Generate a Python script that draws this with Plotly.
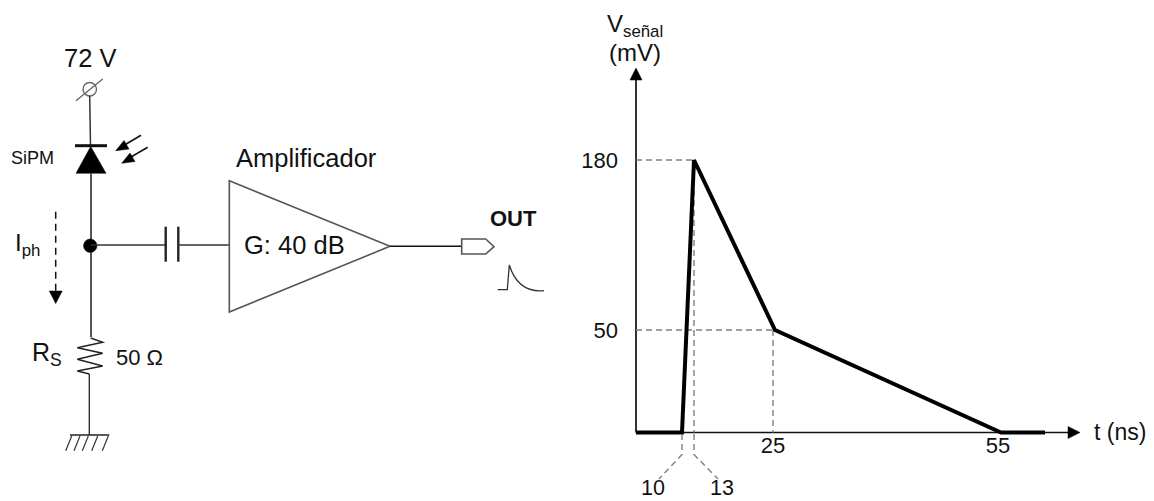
import plotly.graph_objects as go

# ---- Pulse chart data. The reference axes are schematic (not to scale), so each
# labelled value has a drawn position along its axis.
pulse_pos_t = [0, 46, 58, 139, 365, 409]      # drawn position along the time axis
pulse_pos_v = [0, 0, 272.5, 102.5, 0, 0]      # drawn position along the voltage axis
time_labels = ["25", "55"]
time_tick_pos = [137, 362]
voltage_labels = ["50", "180"]
voltage_tick_pos = [102.5, 272.5]
t_span = [-3, 433]
v_span = [-3, 352.5]
t_axis_end = 433
v_axis_end = 352.5
# guide lines, drawn positions
guide_h_t = [[0, 58], [0, 137]]
guide_h_v = [272.5, 102.5]
guide_v_t = [58, 137]
guide_v_v = [272.5, 102.5]

INK = "#111111"
WIRE = "#333333"
FONT = "Liberation Sans, Arial, sans-serif"
W, H = 1154, 501

fig = go.Figure()

# ---- pulse chart traces
guide = dict(color="#808080", width=1.4, dash="6px,4px")
fig.add_trace(go.Scatter(x=[0, t_axis_end], y=[0, 0], xaxis="x2", yaxis="y2", mode="lines",
                         line=dict(color="#111111", width=1.5), cliponaxis=False))
fig.add_trace(go.Scatter(x=[0, 0], y=[0, v_axis_end], xaxis="x2", yaxis="y2", mode="lines",
                         line=dict(color="#333333", width=2), cliponaxis=False))
for ts, v in zip(guide_h_t, guide_h_v):
    fig.add_trace(go.Scatter(x=ts, y=[v, v], xaxis="x2", yaxis="y2", mode="lines", line=guide, cliponaxis=False))
for t, v in zip(guide_v_t, guide_v_v):
    fig.add_trace(go.Scatter(x=[t, t], y=[v, 0], xaxis="x2", yaxis="y2", mode="lines", line=guide, cliponaxis=False))
fig.add_trace(go.Scatter(x=pulse_pos_t, y=pulse_pos_v, xaxis="x2", yaxis="y2", mode="lines",
                         line=dict(color="#000000", width=4), cliponaxis=False))

# ---- schematic shapes (page-pixel coordinates on a hidden axis pair)
shapes = []
def line(x0, y0, x1, y1, color=WIRE, width=1.5, dash=None):
    shapes.append(dict(type="line", xref="x", yref="y", x0=x0, y0=y0, x1=x1, y1=y1,
                       line=dict(color=color, width=width, dash=dash)))
def poly(points, fill=None, color=WIRE, width=1.5, close=True):
    d = "M " + " L ".join(f"{x},{y}" for x, y in points) + (" Z" if close else "")
    shapes.append(dict(type="path", xref="x", yref="y", path=d,
                       fillcolor=fill if fill else "rgba(0,0,0,0)",
                       line=dict(color=color, width=width)))
def solid(points):
    poly(points, fill="#000000", color="#000000", width=0.5)

# supply terminal
shapes.append(dict(type="circle", xref="x", yref="y", x0=83, y0=82.5, x1=96.5, y1=96,
                   line=dict(color="#666666", width=1.4)))
line(76, 100.7, 102.7, 79, "#666666", 1.4)
line(89.7, 96, 90.5, 146)
# diode
line(75, 145.7, 107, 145.7, "#111111", 3)
solid([(90.7, 146.5), (106, 173.3), (76, 173.3)])
line(91, 173, 91, 337, "#555555", 2)
# photon arrows
line(141, 135.3, 122, 146.5, "#111111", 1.6)
solid([(115.7, 150.7), (124, 140.5), (129, 149)])
line(147.7, 147.3, 128, 158.8, "#111111", 1.6)
solid([(121.7, 163.3), (130, 153), (135, 161.5)])
# node and coupling capacitor
shapes.append(dict(type="circle", xref="x", yref="y", x0=83.5, y0=239, x1=97, y1=252.5,
                   fillcolor="#000000", line=dict(color="#000000", width=0.5)))
line(91, 245, 165, 245)
line(165.7, 226.7, 165.7, 261.7, "#222222", 2.4)
line(178.3, 226.7, 178.3, 261.7, "#222222", 2.4)
line(178.3, 245, 229.3, 245)
# current arrow
line(55.7, 211.7, 55.7, 291.5, "#111111", 1.5, "7px,5px")
solid([(49.3, 291), (62.2, 291), (55.7, 303.5)])
# resistor and ground
poly([(90.7, 338), (102.7, 342.3), (77.3, 347.7), (102.7, 353.3), (77.3, 359.3),
      (102.7, 366), (77.3, 371), (89.3, 374)], color="#222222", width=1.4, close=False)
line(89.3, 374, 89.3, 435, "#222222", 1.3)
line(70, 435, 109.3, 435, "#222222", 1.3)
for top in [71.7, 80, 88.3, 97.7, 108.3]:
    line(top, 436, top - 6, 450.7, "#333333", 1.2)
# amplifier
poly([(229.3, 180.7), (390, 246.3), (229.3, 312)], color="#555555", width=1.6)
line(390, 246.3, 461.7, 246.3, "#111111", 1.5)
poly([(461.7, 239), (485.7, 239), (494, 246.7), (485.7, 254), (461.7, 254)], color="#555555", width=1.6)
shapes.append(dict(type="path", xref="x", yref="y",
                   path="M 497.7,289.7 L 507.3,289.7 L 509.3,265 Q 518,293 544,290.7",
                   fillcolor="rgba(0,0,0,0)", line=dict(color="#333333", width=1.3)))
# chart axis arrowheads
solid([(636, 68), (642, 80), (630, 80)])
solid([(1080, 432.5), (1068, 426.5), (1068, 438.5)])
# leaders from the axis to the labels 10 and 13
leader = dict(color="#808080", width=1.4, dash="6px,4px")
for x0, x1 in [(682, 659), (694, 718)]:
    shapes.append(dict(type="path", xref="x", yref="y",
                       path=f"M {x0},434 L {x0},454.5 L {x1},479",
                       fillcolor="rgba(0,0,0,0)", line=leader))

# ---- text
def label(text, x, y, size, bold=False, xanchor="center"):
    return dict(text=f"<b>{text}</b>" if bold else text, x=x, y=y, xref="x", yref="y", showarrow=False,
                xanchor=xanchor, yanchor="middle", font=dict(family=FONT, size=size, color=INK))
annotations = [
    label("72 V", 90, 58, 25.5),
    label("SiPM", 32, 158, 18),
    label("I<sub>ph</sub>", 27, 244, 24),
    label("R<sub>S</sub>", 47, 354, 25),
    label("50 Ω", 139, 357, 22),
    label("Amplificador", 306, 158, 25.5),
    label("G: 40 dB", 294, 245, 25.5),
    label("OUT", 513, 218, 22, bold=True),
    label("V<sub>señal</sub>", 635, 25, 24),
    label("(mV)", 635, 52, 24),
    label("t (ns)", 1119.5, 432, 23),
    label("10", 653, 488, 21.5),
    label("13", 721.5, 488, 21.5),
]

fig.update_layout(
    width=W, height=H, margin=dict(l=0, r=0, t=0, b=0),
    paper_bgcolor="white", plot_bgcolor="white", showlegend=False, hovermode=False,
    shapes=shapes, annotations=annotations,
    xaxis=dict(range=[0, W], domain=[0, 1], visible=False, fixedrange=True),
    yaxis=dict(range=[H, 0], domain=[0, 1], visible=False, fixedrange=True),
    xaxis2=dict(range=t_span, domain=[633 / W, 1069 / W], anchor="y2", showgrid=False, zeroline=False,
                showline=False, ticks="", ticklabelstandoff=-6,
                tickmode="array", tickvals=time_tick_pos, ticktext=time_labels,
                tickfont=dict(family=FONT, size=22, color=INK), fixedrange=True),
    yaxis2=dict(range=v_span, domain=[1 - 435.5 / H, 1 - 80 / H], anchor="x2", showgrid=False, zeroline=False,
                showline=False, ticks="", ticklabelstandoff=14,
                tickmode="array", tickvals=voltage_tick_pos, ticktext=voltage_labels,
                tickfont=dict(family=FONT, size=22, color=INK), fixedrange=True),
)
fig.write_html("out.html", config={"displayModeBar": False},
               post_script="document.body.style.margin='0';")
